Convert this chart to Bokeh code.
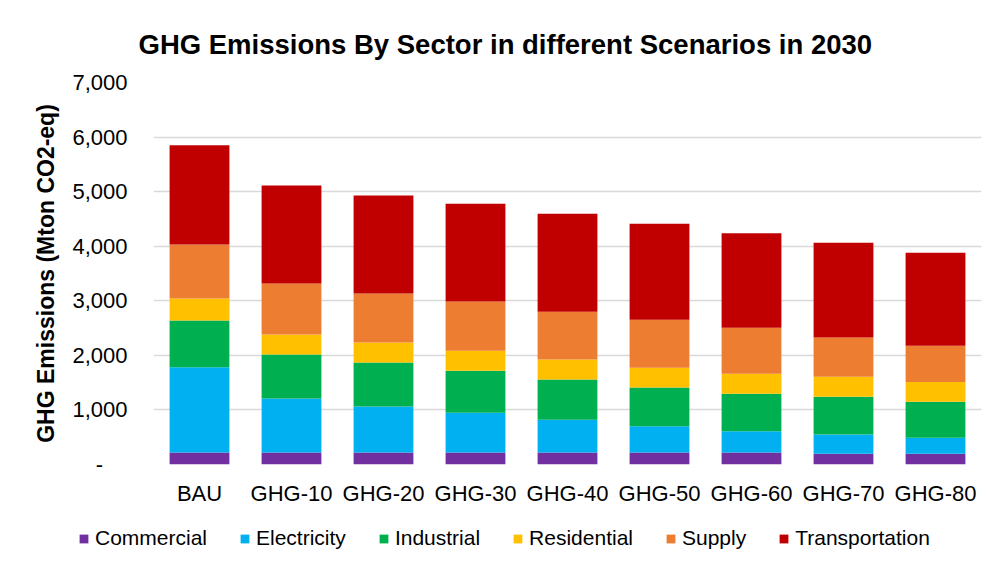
from bokeh.plotting import figure
from bokeh.layouts import column
from bokeh.models import (ColumnDataSource, FactorRange, Range1d, Legend, LegendItem,
                          NumeralTickFormatter, FixedTicker, Title)
from bokeh.embed import file_html
from bokeh.resources import INLINE

scenarios = ["BAU", "GHG-10", "GHG-20", "GHG-30", "GHG-40", "GHG-50", "GHG-60", "GHG-70", "GHG-80"]
sectors = ["Commercial", "Electricity", "Industrial", "Residential", "Supply", "Transportation"]
colors = ["#7030A0", "#00B0F0", "#00B050", "#FFC000", "#ED7D31", "#C00000"]

commercial     = [220, 220, 220, 220, 220, 220, 220, 195, 195]
electricity    = [1560, 990, 843, 727, 600, 483, 390, 355, 293]
industrial     = [860, 807, 806, 770, 738, 708, 686, 690, 660]
residential    = [400, 366, 367, 367, 367, 361, 366, 367, 366]
supply         = [990, 935, 898, 903, 874, 879, 843, 720, 660]
transportation = [1820, 1796, 1796, 1790, 1796, 1760, 1734, 1736, 1705]

y_ticks = [0, 1000, 2000, 3000, 4000, 5000, 6000, 7000]

FONT = "Liberation Sans"

data = dict(scenario=scenarios, Commercial=commercial, Electricity=electricity,
            Industrial=industrial, Residential=residential, Supply=supply,
            Transportation=transportation)
source = ColumnDataSource(data)

p = figure(x_range=FactorRange(*scenarios, range_padding=0), y_range=Range1d(0, 7000),
           frame_width=828, frame_height=382, output_backend="svg", toolbar_location=None,
           min_border_left=153, min_border_right=1, min_border_top=82, min_border_bottom=50)

p.title = Title(text="GHG Emissions By Sector in different Scenarios in 2030",
                text_font=FONT, text_font_size="27.5px", text_font_style="bold",
                text_color="#000000", align="left", offset=-15, standoff=46)

renderers = p.vbar_stack(sectors, x="scenario", width=0.65, color=colors, source=source,
                         line_color=None)

p.background_fill_color = "white"
p.border_fill_color = "white"
p.outline_line_color = None

p.xgrid.grid_line_color = None
p.ygrid.grid_line_color = "#D9D9D9"
p.ygrid.grid_line_width = 1.5
p.ygrid.ticker = FixedTicker(ticks=y_ticks)

p.yaxis.ticker = FixedTicker(ticks=y_ticks)
p.yaxis.formatter = NumeralTickFormatter(format="0,0")
p.yaxis.major_label_overrides = {0: "-\u00a0\u00a0\u00a0\u00a0"}
p.yaxis.axis_line_color = None
p.yaxis.major_tick_line_color = None
p.yaxis.minor_tick_line_color = None
p.yaxis.major_label_standoff = 20
p.yaxis.major_label_text_font = FONT
p.yaxis.major_label_text_font_size = "22px"
p.yaxis.major_label_text_color = "#000000"
p.yaxis.axis_label = "GHG Emissions (Mton CO2-eq)"
p.yaxis.axis_label_text_font = FONT
p.yaxis.axis_label_text_font_size = "23px"
p.yaxis.axis_label_text_font_style = "bold"
p.yaxis.axis_label_text_color = "#000000"
p.yaxis.axis_label_standoff = 10

p.xaxis.axis_line_color = None
p.xaxis.major_tick_line_color = None
p.xaxis.minor_tick_line_color = None
p.xaxis.major_label_standoff = 10
p.xaxis.major_label_text_font = FONT
p.xaxis.major_label_text_font_size = "22px"
p.xaxis.major_label_text_color = "#000000"

# legend strip below the chart (its bars lie far outside its view; only the legend shows)
lg = figure(x_range=FactorRange(*scenarios), y_range=Range1d(100000, 100001),
            width=982, height=48, output_backend="svg", toolbar_location=None,
            x_axis_location=None, y_axis_location=None,
            min_border_left=0, min_border_right=0, min_border_top=0, min_border_bottom=0)
lg.outline_line_color = None
lg.grid.grid_line_color = None
lg.background_fill_color = "white"
lg.border_fill_color = "white"
swatches = lg.vbar_stack(sectors, x="scenario", width=0.65, color=colors, source=source,
                         line_color=None)
items = [LegendItem(label=s, renderers=[r]) for s, r in zip(sectors, swatches)]
legend = Legend(items=items, orientation="horizontal", location=(78, 12),
                glyph_width=11, glyph_height=11, label_standoff=6, spacing=32,
                label_text_font=FONT, label_text_font_size="21px", label_text_color="#000000",
                border_line_color=None, background_fill_alpha=0, margin=0, padding=0,
                label_height=20)
lg.add_layout(legend, "center")

for fig in (p, lg):
    try:
        fig.frame_align = False
    except Exception:
        pass

layout = column(p, lg, spacing=0)
open("out.html", "w").write(file_html(layout, INLINE))
